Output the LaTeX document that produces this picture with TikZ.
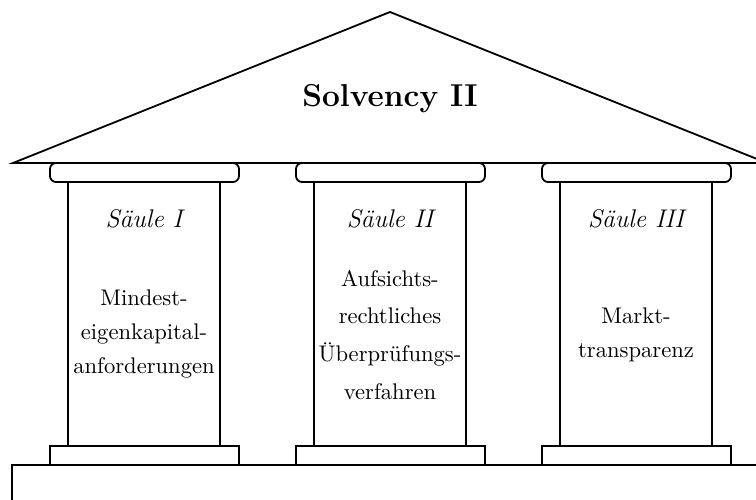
\documentclass[tikz,border=0pt]{standalone}
\begin{document}
\begin{tikzpicture}[x=1pt,y=1pt,line width=1.8pt,
  part/.style={draw,fill=white,line width=1.8pt},
  txt/.style={scale=2.26,transform shape,align=center,inner sep=0pt,font=\fontsize{10}{15}\selectfont},
  txtwide/.style={txt,font=\fontsize{10}{16.8}\selectfont},
  head/.style={txt,font=\fontsize{11.3}{13}\selectfont\itshape},
  titlestyle/.style={txt,font=\fontsize{14}{16}\selectfont\bfseries}]
\useasboundingbox (0,0) rectangle (756,-500);
\clip (0,0) rectangle (756,-500);
% roof
\draw[line join=miter] (13,-163) -- (390,-12) -- (767,-163) -- cycle;
% foundation
\draw (12,-465) rectangle (800,-530);
% pillars
\foreach \cx in {144,390,636}{
  \draw[part] (\cx-76,-182) rectangle (\cx+76,-446);
  \draw[part] (\cx-94,-446) rectangle (\cx+95,-465);
  \draw[part,rounded corners=6pt] (\cx-94,-163) rectangle (\cx+95,-182);
}
% texts
\node[titlestyle,anchor=base] (title) at (390,-107) {Solvency II};
\node[head,anchor=base] (h1) at (144,-228) {Säule I};
\node[head,anchor=base] (h2) at (390,-228) {Säule II};
\node[head,anchor=base] (h3) at (636,-228) {Säule III};
\node[txt] (t1) at (144,-334) {Mindest-\\eigenkapital-\\anforderungen};
\node[txtwide] (t2) at (390,-335) {Aufsichts-\\rechtliches\\Überprüfungs-\\verfahren};
\node[txt] (t3) at (636,-335) {Markt-\\transparenz};
\end{tikzpicture}
\end{document}
